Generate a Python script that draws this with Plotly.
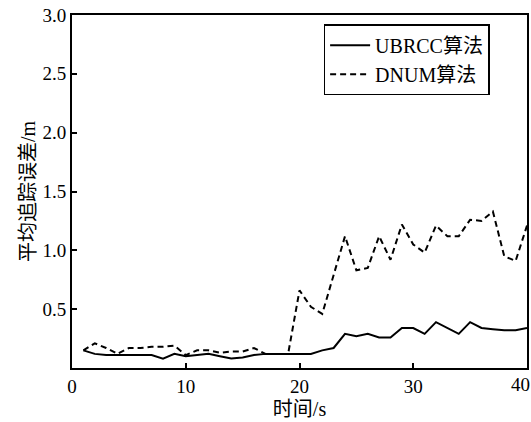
import plotly.graph_objects as go

t = list(range(1, 41))
ubrcc = [0.15, 0.12, 0.11, 0.11, 0.11, 0.11, 0.11, 0.08, 0.12, 0.10,
         0.11, 0.12, 0.10, 0.08, 0.09, 0.11, 0.12, 0.12, 0.12, 0.12,
         0.12, 0.15, 0.17, 0.29, 0.27, 0.29, 0.26, 0.26, 0.34, 0.34,
         0.29, 0.39, 0.34, 0.29, 0.39, 0.34, 0.33, 0.32, 0.32, 0.34]
dnum = [0.15, 0.21, 0.17, 0.12, 0.17, 0.17, 0.18, 0.18, 0.19, 0.11,
        0.15, 0.15, 0.13, 0.14, 0.14, 0.17, 0.12, 0.12, 0.12, 0.66,
        0.52, 0.46, 0.80, 1.12, 0.83, 0.85, 1.12, 0.92, 1.22, 1.05,
        0.98, 1.21, 1.12, 1.12, 1.26, 1.25, 1.33, 0.95, 0.91, 1.21]
names = ["UBRCC算法", "DNUM算法"]
x_ticks = [0, 10, 20, 30, 40]
x_labels = ["0", "10", "20", "30", "40"]
y_ticks = [0.5, 1.0, 1.5, 2.0, 2.5, 3.0]

FONT = "Liberation Serif, Times New Roman, Noto Sans CJK SC, serif"

fig = go.Figure()
fig.add_trace(go.Scatter(x=t, y=ubrcc, mode="lines", name=names[0],
                         line=dict(color="black", width=2)))
fig.add_trace(go.Scatter(x=t, y=dnum, mode="lines", name=names[1],
                         line=dict(color="black", width=2, dash="6px,4px")))

# last x tick label drawn as an annotation so it stays inside the page
fig.add_annotation(x=x_ticks[-1], xref="x", y=0, yref="paper",
                   text=x_labels[-1], showarrow=False,
                   xanchor="right", yanchor="top", xshift=5, yshift=-4,
                   font=dict(family=FONT, size=19, color="black"))

fig.update_layout(
    width=531, height=422,
    margin=dict(l=72, r=4, t=15, b=54, autoexpand=False),
    paper_bgcolor="white", plot_bgcolor="white",
    font=dict(family=FONT, size=19, color="black"),
    showlegend=True,
    legend=dict(x=0.553, y=0.974, xanchor="left", yanchor="top",
                bordercolor="black", borderwidth=1.5, bgcolor="white",
                font=dict(family=FONT, size=20, color="black"),
                tracegroupgap=0, itemwidth=40),
)
fig.update_xaxes(range=[0, 40], tickvals=x_ticks, ticktext=x_labels[:-1] + [""],
                 ticks="inside", ticklen=5, tickwidth=1.5, tickcolor="black",
                 automargin=False,
                 showline=True, linecolor="black", linewidth=2, mirror=True,
                 showgrid=False, zeroline=False,
                 title=dict(text="时间/s", font=dict(size=20), standoff=6))
fig.update_yaxes(range=[0, 3], tickvals=y_ticks, ticktext=[f"{v:.1f}" for v in y_ticks],
                 ticks="inside", ticklen=5, tickwidth=1.5, tickcolor="black",
                 automargin=False,
                 showline=True, linecolor="black", linewidth=2, mirror=True,
                 showgrid=False, zeroline=False,
                 title=dict(text="平均追踪误差/m", font=dict(size=20), standoff=1))

fig.write_html("out.html")
